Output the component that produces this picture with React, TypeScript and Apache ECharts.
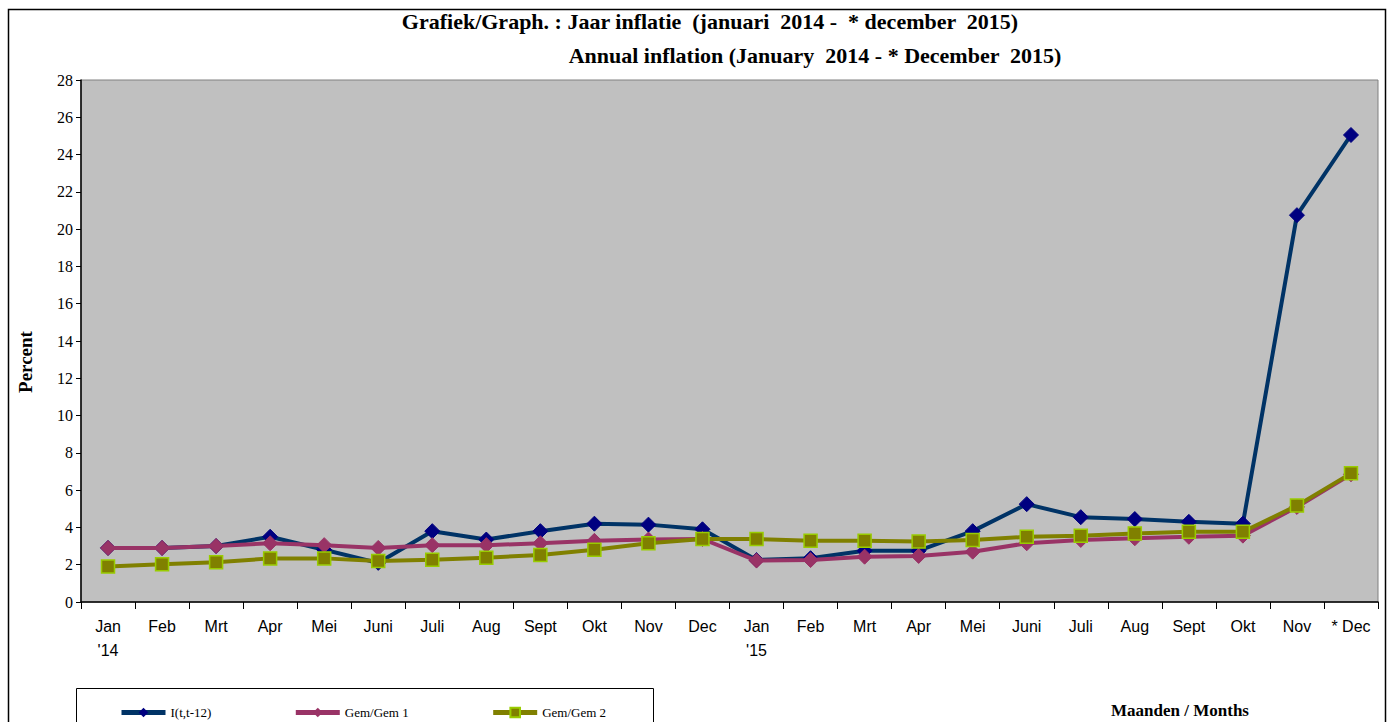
import React, { useEffect, useRef } from "react";
import * as echarts from "echarts";

const categories = [
  "Jan\n'14", "Feb", "Mrt", "Apr", "Mei", "Juni", "Juli", "Aug", "Sept", "Okt", "Nov", "Dec",
  "Jan\n'15", "Feb", "Mrt", "Apr", "Mei", "Juni", "Juli", "Aug", "Sept", "Okt", "Nov", "* Dec",
];

const seriesI = [2.9, 2.9, 3.0, 3.5, 2.8, 2.1, 3.8, 3.35, 3.8, 4.2, 4.15, 3.9,
  2.25, 2.35, 2.75, 2.75, 3.8, 5.25, 4.55, 4.45, 4.3, 4.2, 20.75, 25.05];
const seriesGem1 = [2.9, 2.9, 3.0, 3.15, 3.05, 2.9, 3.05, 3.05, 3.15, 3.28, 3.35, 3.38,
  2.22, 2.25, 2.43, 2.47, 2.7, 3.15, 3.33, 3.42, 3.5, 3.56, 5.1, 6.85];
const seriesGem2 = [1.9, 2.02, 2.13, 2.34, 2.34, 2.2, 2.27, 2.38, 2.52, 2.8, 3.15, 3.38,
  3.38, 3.29, 3.29, 3.24, 3.33, 3.5, 3.56, 3.68, 3.77, 3.77, 5.17, 6.9];

const seriesNames = ["I(t,t-12)", "Gem/Gem 1", "Gem/Gem 2"];

const SERIF = "Liberation Serif";
const SANS = "Liberation Sans";

export default function App() {
  const ref = useRef<HTMLDivElement>(null);
  useEffect(() => {
    if (!ref.current) return;
    const chart = echarts.init(ref.current, undefined, { renderer: "svg" });
    chart.setOption({
      animation: false,
      backgroundColor: "#ffffff",
      textStyle: { fontFamily: SERIF, color: "#000" },
      grid: {
        left: 81, right: 12, top: 80, bottom: 120,
        show: true, backgroundColor: "#C0C0C0", borderColor: "#808080", borderWidth: 1,
      },
      legend: {
        left: 114, top: 701, itemGap: 82, itemWidth: 44, itemHeight: 12,
        lineStyle: { width: 5 },
        textStyle: { fontFamily: SERIF, fontSize: 13, color: "#000" },
        data: seriesNames,
      },
      xAxis: {
        type: "category",
        data: categories,
        boundaryGap: true,
        axisLine: { lineStyle: { color: "#000", width: 1.5 } },
        axisTick: { show: true, interval: 0, length: 7, lineStyle: { color: "#000" } },
        axisLabel: { interval: 0, fontFamily: SANS, fontSize: 16, color: "#000", margin: 12, lineHeight: 24 },
      },
      yAxis: {
        type: "value", min: 0, max: 28, interval: 2,
        axisLine: { show: true, lineStyle: { color: "#000", width: 1.5 } },
        axisTick: { show: true, length: 5, lineStyle: { color: "#000" } },
        axisLabel: { fontFamily: SERIF, fontSize: 16, color: "#000", margin: 8 },
        splitLine: { show: false },
      },
      series: [
        {
          name: seriesNames[0], type: "line", data: seriesI,
          lineStyle: { color: "#003366", width: 4 },
          itemStyle: { color: "#000080", borderColor: "#000080" },
          symbol: "diamond", symbolSize: 15, z: 3,
        },
        {
          name: seriesNames[1], type: "line", data: seriesGem1,
          lineStyle: { color: "#993366", width: 4 },
          itemStyle: { color: "#993366", borderColor: "#993366" },
          symbol: "diamond", symbolSize: 15, z: 4,
        },
        {
          name: seriesNames[2], type: "line", data: seriesGem2,
          lineStyle: { color: "#808000", width: 4 },
          itemStyle: { color: "#808000", borderColor: "#99CC00", borderWidth: 1.5 },
          symbol: "rect", symbolSize: 13, z: 5,
        },
      ],
      graphic: [
        { type: "rect", shape: { x: 8.5, y: 9.5, width: 1377, height: 730 },
          style: { fill: "none", stroke: "#000", lineWidth: 1.5 }, silent: true, z: -1 },
        { type: "rect", shape: { x: 76.5, y: 688.5, width: 577, height: 50 },
          style: { fill: "none", stroke: "#000", lineWidth: 1 }, silent: true },
        { type: "text", x: 710, y: 21,
          style: { text: "Grafiek/Graph. : Jaar inflatie  (januari  2014 -  * december  2015)",
            font: `bold 22px ${SERIF}`, fill: "#000", align: "center", verticalAlign: "middle" } },
        { type: "text", x: 815, y: 55,
          style: { text: "Annual inflation (January  2014 - * December  2015)",
            font: `bold 22px ${SERIF}`, fill: "#000", align: "center", verticalAlign: "middle" } },
        { type: "text", x: 25, y: 362, rotation: Math.PI / 2,
          style: { text: "Percent", font: `bold 19px ${SERIF}`, fill: "#000", align: "center", verticalAlign: "middle" } },
        { type: "text", x: 1180, y: 710,
          style: { text: "Maanden / Months", font: `bold 17px ${SERIF}`, fill: "#000", align: "center", verticalAlign: "middle" } },
      ],
    });
    return () => chart.dispose();
  }, []);
  return <div ref={ref} style={{ position: "fixed", left: 0, top: 0, width: 1390, height: 722 }} />;
}
